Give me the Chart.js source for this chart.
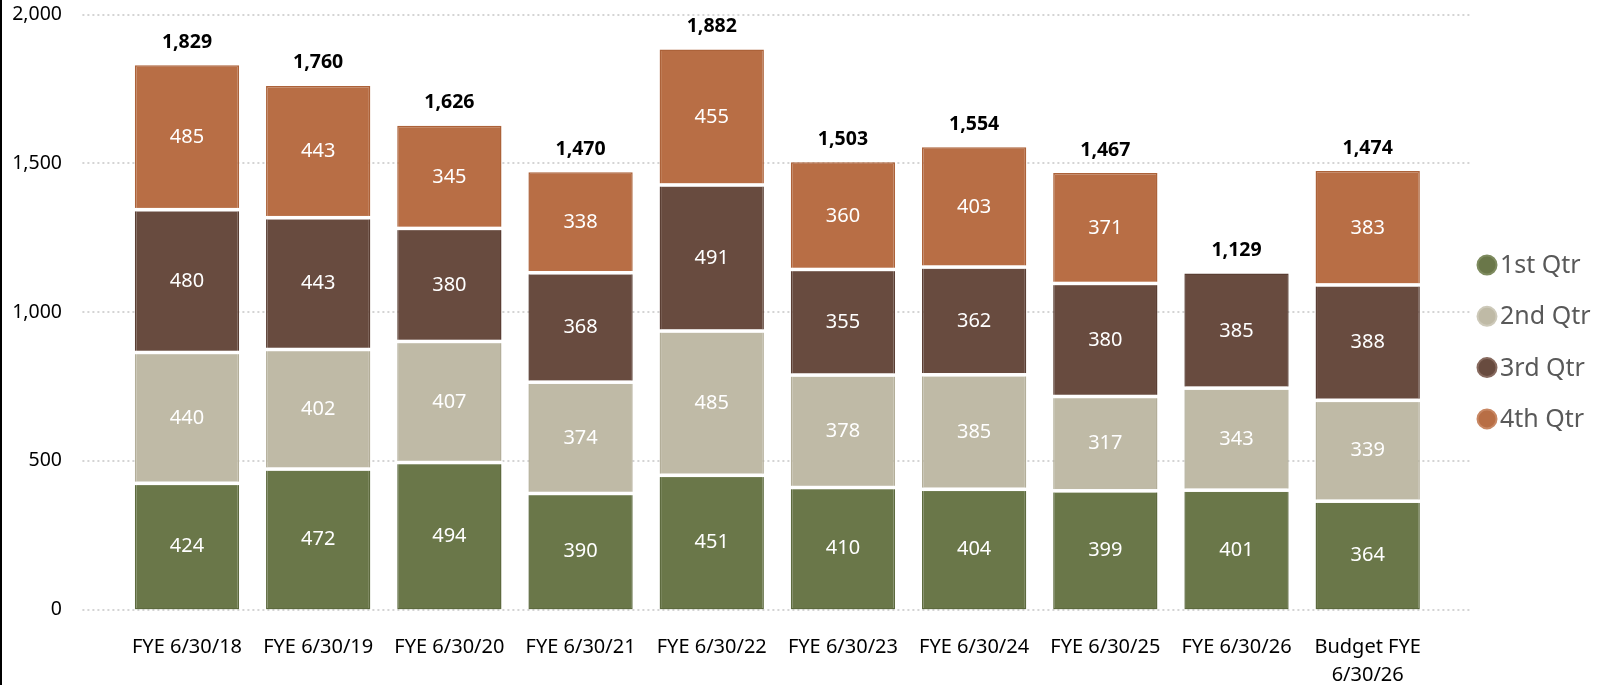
<!DOCTYPE html>
<html>
<head>
<meta charset="utf-8">
<script src="https://cdn.jsdelivr.net/npm/chart.js@4.4.1/dist/chart.umd.min.js"></script>
<style>
    body { margin: 0; background: #fff; }
    #wrap { position: relative; width: 1606px; height: 685px; }
    #edge { position: absolute; left: 0; top: 0; width: 2px; height: 685px; background: #000; }
</style>
</head>
<body>
<div id="wrap">
    <canvas id="chart" width="1606" height="685"></canvas>
    <div id="edge"></div>
</div>
<script>
// Datos del grafico
const categories = ['FYE 6/30/18', 'FYE 6/30/19', 'FYE 6/30/20', 'FYE 6/30/21', 'FYE 6/30/22',
    'FYE 6/30/23', 'FYE 6/30/24', 'FYE 6/30/25', 'FYE 6/30/26', ['Budget FYE', '6/30/26']];
const seriesNames = ['1st Qtr', '2nd Qtr', '3rd Qtr', '4th Qtr'];
const qtr1 = [424, 472, 494, 390, 451, 410, 404, 399, 401, 364];
const qtr2 = [440, 402, 407, 374, 485, 378, 385, 317, 343, 339];
const qtr3 = [480, 443, 380, 368, 491, 355, 362, 380, 385, 388];
const qtr4 = [485, 443, 345, 338, 455, 360, 403, 371, null, 383];
const yTicks = [0, 500, 1000, 1500, 2000];

const colores = ['#6A7749', '#BFBAA6', '#684B3F', '#B86E45'];
const bordes = ['#5D6A3E', '#B3AE99', '#5A3E33', '#AC6239'];
const anillos = ['#7E8B5F', '#CDC9B9', '#876A5F', '#C88763'];
const FONT = '"Noto Sans", "Open Sans", sans-serif';

const series = [qtr1, qtr2, qtr3, qtr4];

// lineas de cuadricula punteadas, mas anchas que el area de barras
const gridPlugin = {
    id: 'gridPunteado',
    beforeDatasetsDraw(chart) {
        const { ctx, chartArea, scales } = chart;
        ctx.save();
        ctx.strokeStyle = '#D4D4D4';
        ctx.lineWidth = 2;
        ctx.setLineDash([2, 3]);
        yTicks.forEach(v => {
            const y = Math.round(scales.y.getPixelForValue(v));
            ctx.beginPath();
            ctx.moveTo(chartArea.left - 39, y);
            ctx.lineTo(chartArea.right + 39, y);
            ctx.stroke();
        });
        ctx.restore();
    }
};

const etiquetasPlugin = {
    id: 'etiquetas',
    afterDatasetsDraw(chart) {
        const { ctx, scales } = chart;
        ctx.save();

        // separacion blanca entre segmentos
        ctx.fillStyle = '#FFFFFF';
        for (let i = 1; i < series.length; i++) {
            chart.getDatasetMeta(i).data.forEach((bar, j) => {
                if (series[i][j] == null) return;
                const p = bar.getProps(['x', 'base', 'width'], true);
                ctx.fillRect(p.x - p.width / 2 - 1, p.base - 1.75, p.width + 2, 3.5);
            });
        }

        // valores dentro de las barras
        ctx.fillStyle = '#FFFFFF';
        ctx.font = '20px ' + FONT;
        ctx.textAlign = 'center';
        ctx.textBaseline = 'middle';
        series.forEach((data, i) => {
            chart.getDatasetMeta(i).data.forEach((bar, j) => {
                if (data[j] == null) return;
                const p = bar.getProps(['x', 'y', 'base'], true);
                ctx.fillText(String(data[j]), p.x, (p.y + p.base) / 2);
            });
        });

        // totales
        ctx.fillStyle = '#000000';
        ctx.font = 'bold 19.5px ' + FONT;
        categories.forEach((c, j) => {
            const total = series.reduce((s, d) => s + (d[j] || 0), 0);
            const x = chart.getDatasetMeta(0).data[j].x;
            const y = scales.y.getPixelForValue(total);
            ctx.fillText(total.toLocaleString('en-US'), x, y - 23);
        });

        // leyenda
        ctx.font = '25px ' + FONT;
        ctx.textAlign = 'left';
        seriesNames.forEach((name, i) => {
            const cy = 265 + i * 51.3;
            ctx.beginPath();
            ctx.arc(1487, cy, 9.5, 0, Math.PI * 2);
            ctx.fillStyle = colores[i];
            ctx.fill();
            ctx.lineWidth = 2;
            ctx.strokeStyle = anillos[i];
            ctx.stroke();
            ctx.fillStyle = '#595959';
            ctx.fillText(name, 1500, cy + 1);
        });
        ctx.restore();
    }
};

const ctx = document.getElementById('chart').getContext('2d');
new Chart(ctx, {
    type: 'bar',
    data: {
        labels: categories,
        datasets: series.map((data, i) => ({
            label: seriesNames[i],
            data: data,
            backgroundColor: colores[i],
            borderColor: bordes[i],
            borderWidth: 1.5,
            borderSkipped: false,
            barPercentage: 0.795,
            categoryPercentage: 1
        }))
    },
    options: {
        responsive: false,
        animation: false,
        devicePixelRatio: 1,
        layout: { padding: { left: 0, right: 172.7, top: 14.5, bottom: 0 } },
        plugins: {
            legend: { display: false },
            tooltip: { enabled: false }
        },
        scales: {
            x: {
                stacked: true,
                grid: { display: false, drawTicks: false },
                border: { display: false },
                ticks: {
                    color: '#000000',
                    font: { family: FONT, size: 20, lineHeight: 1.4 },
                    padding: 23.5,
                    maxRotation: 0,
                    autoSkip: false
                },
                afterFit(scale) { scale.height = 75.5; }
            },
            y: {
                stacked: true,
                min: 0,
                max: 2000,
                grid: { display: false, drawTicks: false },
                border: { display: false },
                ticks: {
                    stepSize: 500,
                    color: '#000000',
                    font: { family: FONT, size: 19.5 },
                    padding: 59.4,
                    callback: v => v.toLocaleString('en-US')
                },
                afterFit(scale) {
                    scale.width = 121.4;
                    scale.paddingTop = 10;
                    scale.paddingBottom = 10;
                }
            }
        }
    },
    plugins: [gridPlugin, etiquetasPlugin]
});
</script>
</body>
</html>
